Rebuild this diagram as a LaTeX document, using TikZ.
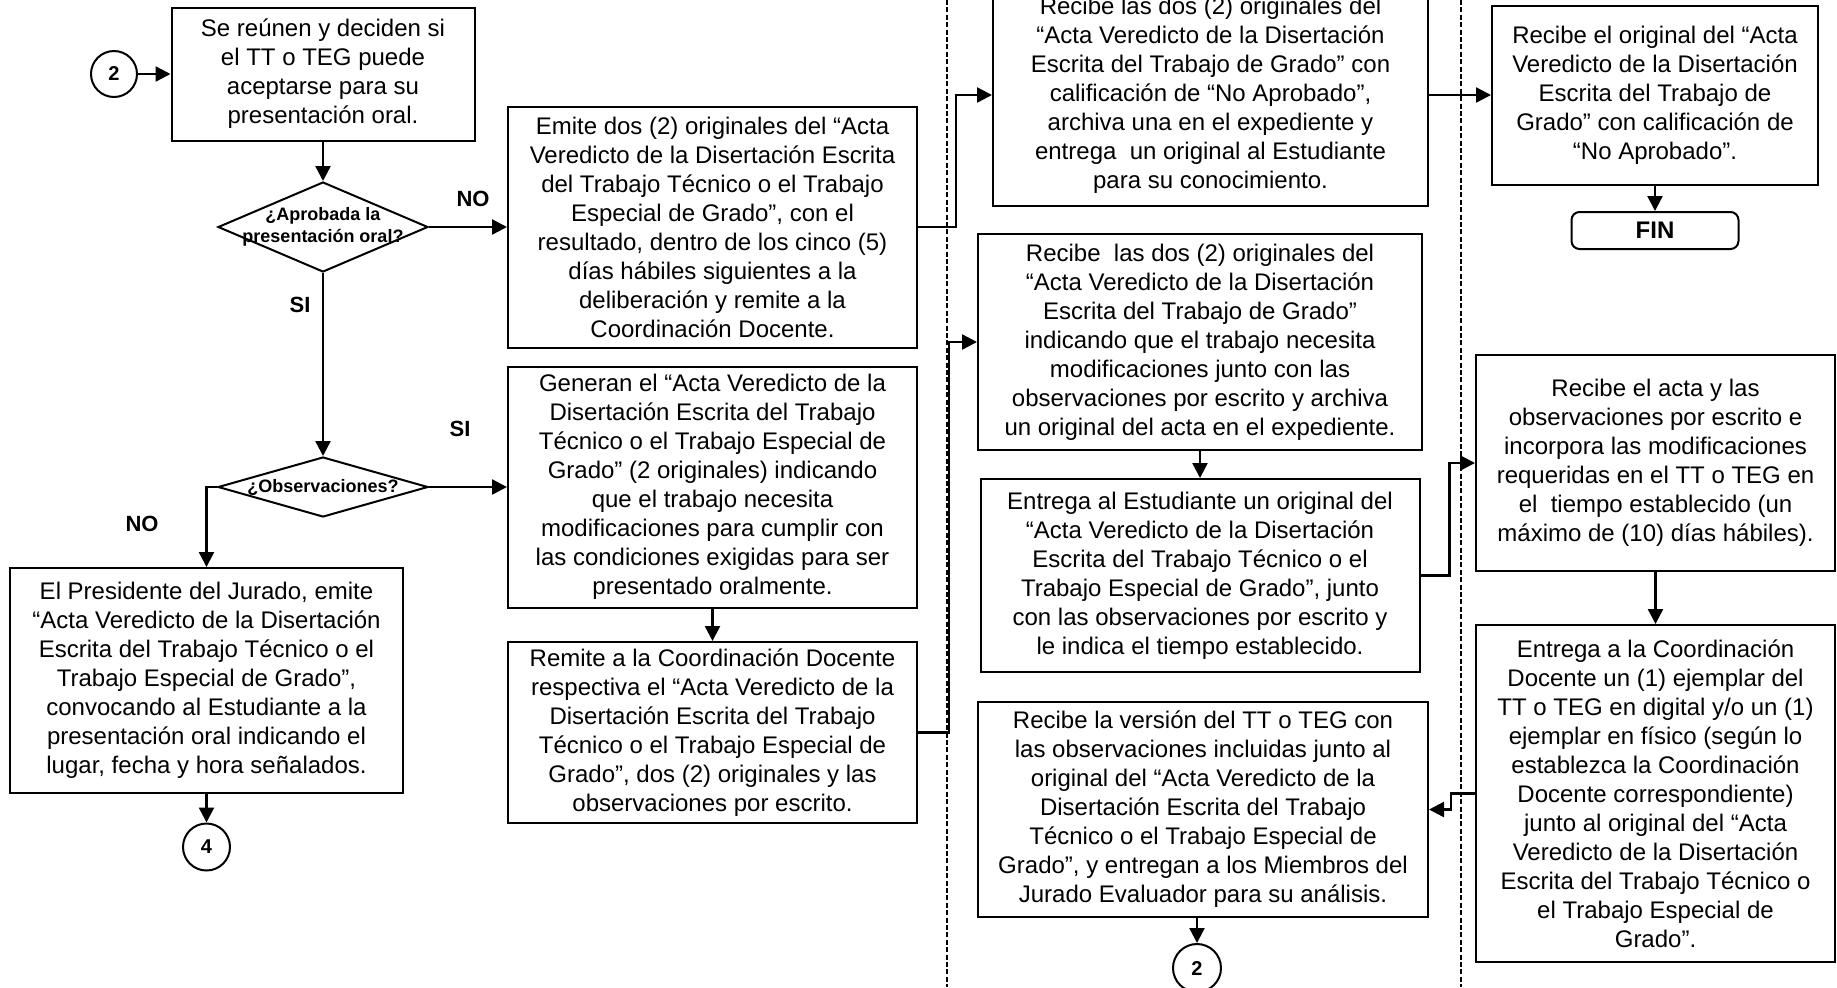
\documentclass[tikz,border=0pt]{standalone}
\usepackage{fontspec}
\setmainfont{Liberation Sans}
\usepackage{tikz}
\usetikzlibrary{arrows.meta}
\usetikzlibrary{shapes.geometric}

\begin{document}
\begin{tikzpicture}[x=0.5pt, y=-0.5pt,
  proc/.style = {draw, line width=1pt, inner sep=0pt, align=center, font=\fontsize{12}{14.5}\selectfont},
  decision/.style = {draw, diamond, line width=1pt, inner sep=0pt},
  dtxt/.style = {align=center, inner sep=0pt, font=\bfseries\fontsize{9}{11}\selectfont},
  conector/.style = {draw, circle, line width=1pt, inner sep=0pt, minimum size=23pt, font=\bfseries\fontsize{10}{12}\selectfont},
  flecha/.style = {line width=1.2pt, -{Triangle[length=7.5pt, width=7.5pt]}},
  etiq/.style = {inner sep=0pt, font=\bfseries\fontsize{11}{13}\selectfont},
  carril/.style = {line width=0.6pt, dash pattern=on 2.5pt off 1.2pt}]

\useasboundingbox (0,0) rectangle (1837,987);

\draw[carril] (947,0) -- (947,987);
\draw[carril] (1461,0) -- (1461,987);


\node[conector] (ini) at (114,74) {2};
\node[proc, minimum width=151.5pt, minimum height=66.5pt] (reunen) at (323,74) {Se reúnen y deciden si\\el TT o TEG puede\\aceptarse para su\\presentación oral.};

\node[decision, minimum width=105pt, minimum height=45pt] (aprob) at (323,227) {};
\node[dtxt] (aprobtxt) at (aprob) {¿Aprobada la\\presentación oral?};
\node[etiq] (no1) at (473,199) {NO};
\node[etiq] (si1) at (300,305) {SI};

\node[decision, minimum width=105pt, minimum height=30pt] (obs) at (323,487) {};
\node[dtxt] (obstxt) at (obs) {¿Observaciones?};
\node[etiq] (si2) at (460,429) {SI};
\node[etiq] (no2) at (142,524) {NO};

\node[proc, minimum width=196.5pt, minimum height=112.5pt] (presid) at (206.5,680.5) {El Presidente del Jurado, emite\\“Acta Veredicto de la Disertación\\Escrita del Trabajo Técnico o el\\Trabajo Especial de Grado”,\\convocando al Estudiante a la\\presentación oral indicando el\\lugar, fecha y hora señalados.};
\node[conector, minimum size=23.5pt] (cuatro) at (206.5,847) {4};


\node[proc, minimum width=204.5pt, minimum height=120.5pt] (emite) at (712.5,227) {Emite dos (2) originales del “Acta\\Veredicto de la Disertación Escrita\\del Trabajo Técnico o el Trabajo\\Especial de Grado”, con el\\resultado, dentro de los cinco (5)\\días hábiles siguientes a la\\deliberación y remite a la\\Coordinación Docente.};
\node[proc, minimum width=204.5pt, minimum height=120.5pt] (genera) at (712.5,487) {Generan el “Acta Veredicto de la\\Disertación Escrita del Trabajo\\Técnico o el Trabajo Especial de\\Grado” (2 originales) indicando\\que el trabajo necesita\\modificaciones para cumplir con\\las condiciones exigidas para ser\\presentado oralmente.};
\node[proc, minimum width=204.5pt, minimum height=90.5pt] (remite) at (712.5,732.5) {Remite a la Coordinación Docente\\respectiva el “Acta Veredicto de la\\Disertación Escrita del Trabajo\\Técnico o el Trabajo Especial de\\Grado”, dos (2) originales y las\\observaciones por escrito.};


\node[proc, minimum width=217.5pt, minimum height=111pt] (recno) at (1210.5,95) {Recibe las dos (2) originales del\\“Acta Veredicto de la Disertación\\Escrita del Trabajo de Grado” con\\calificación de “No Aprobado”,\\archiva una en el expediente y\\entrega \ un original al Estudiante\\para su conocimiento.};
\node[proc, minimum width=222pt, minimum height=108pt] (recmod) at (1200,342) {Recibe \ las dos (2) originales del\\“Acta Veredicto de la Disertación\\Escrita del Trabajo de Grado”\\indicando que el trabajo necesita\\modificaciones junto con las\\observaciones por escrito y archiva\\un original del acta en el expediente.};
\node[proc, minimum width=219.5pt, minimum height=96.5pt] (entrega) at (1200,575.5) {Entrega al Estudiante un original del\\“Acta Veredicto de la Disertación\\Escrita del Trabajo Técnico o el\\Trabajo Especial de Grado”, junto\\con las observaciones por escrito y\\le indica el tiempo establecido.};
\node[proc, minimum width=225pt, minimum height=107.5pt] (version) at (1203,809.5) {Recibe la versión del TT o TEG con\\las observaciones incluidas junto al\\original del “Acta Veredicto de la\\Disertación Escrita del Trabajo\\Técnico o el Trabajo Especial de\\Grado”, y entregan a los Miembros del\\Jurado Evaluador para su análisis.};
\node[conector, minimum size=24pt] (dos) at (1197,968) {2};


\node[proc, minimum width=163pt, minimum height=89.5pt] (recorig) at (1655,95) {Recibe el original del “Acta\\Veredicto de la Disertación\\Escrita del Trabajo de\\Grado” con calificación de\\“No Aprobado”.};
\node[proc, rounded corners=4pt, minimum width=83.5pt, minimum height=18.5pt, font=\bfseries\fontsize{12}{14}\selectfont] (fin) at (1655,230.5) {FIN};
\node[proc, minimum width=179.5pt, minimum height=108pt] (acta) at (1655.5,463) {Recibe el acta y las\\observaciones por escrito e\\incorpora las modificaciones\\requeridas en el TT o TEG en\\el \ tiempo establecido (un\\máximo de (10) días hábiles).};
\node[proc, minimum width=179.5pt, minimum height=168.5pt] (coord) at (1655.5,793.5) {Entrega a la Coordinación\\Docente un (1) ejemplar del\\TT o TEG en digital y/o un (1)\\ejemplar en físico (según lo\\establezca la Coordinación\\Docente correspondiente)\\junto al original del “Acta\\Veredicto de la Disertación\\Escrita del Trabajo Técnico o\\el Trabajo Especial de\\Grado”.};


\draw[flecha] (ini) -- (reunen);
\draw[flecha] (reunen) -- (aprob);
\draw[flecha] (aprob) -- (emite);
\draw[flecha] (aprob) -- (obs);
\draw[flecha] (obs) -- (genera);
\draw[flecha] (obs.west) -| (presid.north);
\draw[flecha] (presid) -- (cuatro);
\draw[flecha] (genera) -- (remite);

\draw[flecha] (emite.east) -- ++(38,0) |- (recno.west);
\draw[flecha] (remite.east) -- ++(31,0) |- (recmod.west);
\draw[flecha] (recno) -- (recorig);
\draw[flecha] (recorig) -- (fin);
\draw[flecha] (recmod) -- (entrega);
\draw[flecha] (entrega.east) -- ++(29,0) |- (acta.west);
\draw[flecha] (acta) -- (coord);
\draw[flecha] (coord.west) -- ++(-24,0) |- (version.east);
\draw[flecha] (dos |- version.south) -- (dos);

\end{tikzpicture}
\end{document}
